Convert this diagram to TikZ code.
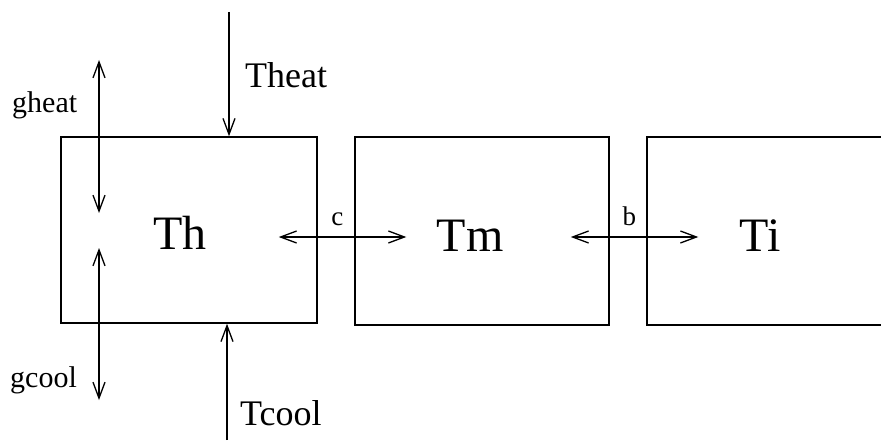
\documentclass[tikz,border=0pt]{standalone}
\usepackage{fontspec}
\setmainfont{Liberation Serif}
\usetikzlibrary{arrows.meta,positioning}

\begin{document}
\begin{tikzpicture}[
  x=1pt,y=-1pt,
  tank/.style={
    draw=black,
    line width=1.5pt,
    minimum width=256pt,
    minimum height=186pt,
    inner sep=0pt
  },
  tankname/.style={font=\fontsize{48}{52}\selectfont, inner sep=0pt},
  flowname/.style={font=\fontsize{36}{40}\selectfont, inner sep=0pt, anchor=base west},
  gainname/.style={font=\fontsize{30}{34}\selectfont, inner sep=0pt, anchor=base west},
  linkname/.style={font=\fontsize{27}{30}\selectfont, inner sep=0pt, anchor=base},
  flow/.style={-{Straight Barb[length=16pt,width=12pt]},line width=1.3pt},
  swap/.style={{Straight Barb[length=16pt,width=12pt]}-{Straight Barb[length=16pt,width=12pt]},line width=1.3pt}
]
\useasboundingbox (0,0) rectangle (881,444);
\clip (0,0) rectangle (881,444);

\node[tank] (hot) at (189,230) {};
\node[tank, minimum width=254pt, minimum height=188pt] (mid) at (482,231) {};
\node[tank, minimum height=188pt] (ice) at (775,231) {};

\node[tankname] (hotname) at (180,233) {Th};
\node[tankname] (midname) at (470,236) {Tm};
\node[tankname] (icename) at (760,236) {Ti};

\coordinate (heatin) at (229,12);
\coordinate (coolin) at (227,440);
\coordinate (gheattop) at (99,60);
\coordinate (gheatbot) at (99,213);
\coordinate (gcooltop) at (99,248);
\coordinate (gcoolbot) at (99,400);

\node[flowname] (heatname) at (245,88) {Theat};
\node[flowname] (coolname) at (240,425) {Tcool};
\node[gainname] (gheatname) at (12,112) {gheat};
\node[gainname] (gcoolname) at (10,387) {gcool};

\draw[flow] (heatin) -- (heatin |- hot.north);
\draw[flow] (coolin) -- (coolin |- hot.south);
\draw[swap] (gheattop) -- (gheatbot);
\draw[swap] (gcooltop) -- (gcoolbot);
\draw[swap] ([xshift=-39pt,yshift=-7pt]hot.east) -- ([xshift=52pt,yshift=-6pt]mid.west)
  node[linkname, pos=0.46, yshift=12pt] (cname) {c};
\draw[swap] ([xshift=-39pt,yshift=-6pt]mid.east) -- ([xshift=52pt,yshift=-6pt]ice.west)
  node[linkname, pos=0.46, yshift=12pt] (bname) {b};
\end{tikzpicture}
\end{document}
